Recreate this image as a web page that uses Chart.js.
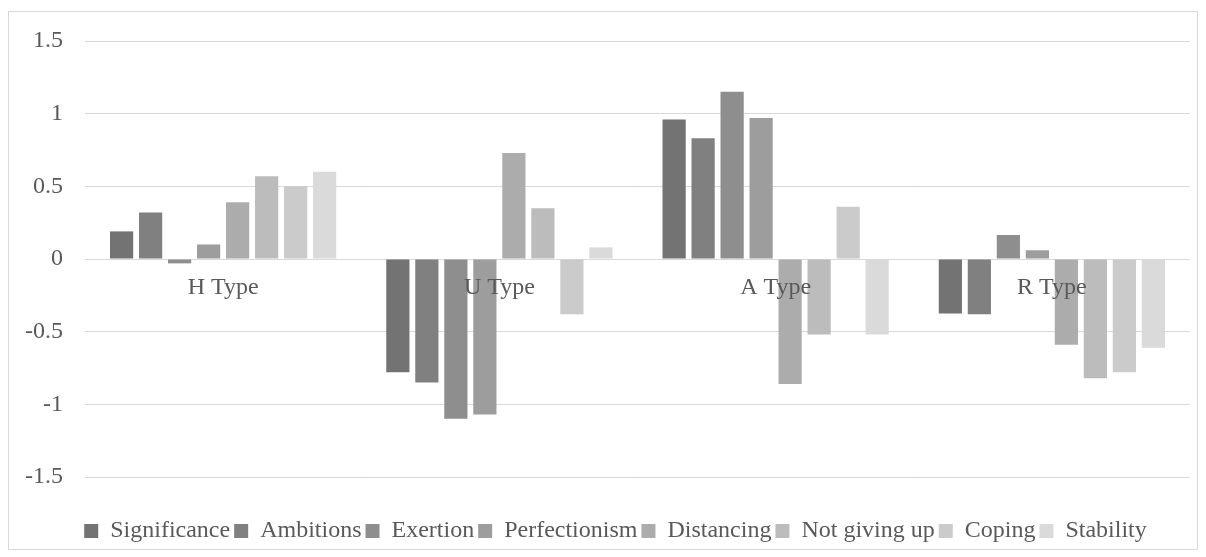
<!DOCTYPE html>
<html>
<head>
<meta charset="utf-8">
<script src="https://cdn.jsdelivr.net/npm/chart.js@4.4.1/dist/chart.umd.min.js"></script>
<style>
  html, body { margin: 0; padding: 0; background: #ffffff; }
  #frame {
    position: absolute;
    left: 8px;
    top: 11px;
    width: 1188px;
    height: 537px;
    border: 1px solid #d9d9d9;
  }
</style>
</head>
<body>
<div id="frame"><canvas id="chart"></canvas></div>
<script>
// categories and series
const types = ["H Type", "U Type", "A Type", "R Type"];
const seriesNames = ["Significance", "Ambitions", "Exertion", "Perfectionism", "Distancing", "Not giving up", "Coping", "Stability"];
const seriesColors = ["#737373", "#808080", "#8e8e8e", "#9d9d9d", "#acacac", "#bcbcbc", "#cbcbcb", "#dadada"];

// values per series, one per type (H, U, A, R)
const significance = [0.19, -0.78, 0.96, -0.375];
const ambitions = [0.32, -0.85, 0.83, -0.38];
const exertion = [-0.03, -1.10, 1.15, 0.165];
const perfectionism = [0.10, -1.07, 0.97, 0.06];
const distancing = [0.39, 0.73, -0.86, -0.59];
const notGivingUp = [0.57, 0.35, -0.52, -0.82];
const coping = [0.50, -0.38, 0.36, -0.78];
const stability = [0.60, 0.08, -0.52, -0.61];

const yTicks = [1.5, 1, 0.5, 0, -0.5, -1, -1.5];

const seriesValues = [significance, ambitions, exertion, perfectionism, distancing, notGivingUp, coping, stability];

const fontFamily = "'Liberation Serif', 'Times New Roman', serif";
const textColor = "#595959";

const datasets = seriesNames.map((name, i) => ({
    label: name,
    data: seriesValues[i],
    backgroundColor: seriesColors[i],
    borderWidth: 0,
    barPercentage: 0.8,
    categoryPercentage: 0.84
}));

// the legend in the original sits a bit right of centre
const legendShift = {
    id: 'legendShift',
    afterLayout(chart) {
        chart.legend.left += 16;
        chart.legend.right += 16;
    }
};

const ctx = document.getElementById('chart').getContext('2d');
const myChart = new Chart(ctx, {
    type: 'bar',
    data: {
        labels: types,
        datasets: datasets
    },
    plugins: [legendShift],
    options: {
        responsive: true,
        maintainAspectRatio: false,
        animation: false,
        layout: {
            padding: { left: 0, right: 7, top: 29, bottom: 4 }
        },
        plugins: {
            tooltip: { enabled: false },
            legend: {
                position: 'bottom',
                maxHeight: 30,
                labels: {
                    font: { family: fontFamily, size: 24 },
                    color: textColor,
                    boxWidth: 14,
                    boxHeight: 14,
                    padding: 4
                }
            }
        },
        scales: {
            x: {
                position: { y: 0 },
                grid: { display: false },
                border: { display: false },
                ticks: {
                    z: 1,   // labels sit on top of the bars
                    font: { family: fontFamily, size: 24 },
                    color: textColor,
                    padding: 6
                }
            },
            // empty axis only to keep the gap between plot and legend
            gap: {
                type: 'category',
                position: 'bottom',
                labels: [''],
                grid: { display: false },
                border: { display: false },
                ticks: { display: false },
                afterFit: (scale) => { scale.height = 38; }
            },
            y: {
                min: -1.5,
                max: 1.5,
                afterFit: (scale) => {
                    scale.width = 76;
                    scale.paddingTop = 0;
                    scale.paddingBottom = 0;
                },
                afterBuildTicks: (scale) => {
                    scale.ticks = yTicks.map(v => ({ value: v }));
                },
                grid: {
                    color: "#d9d9d9",
                    lineWidth: 1,
                    drawTicks: false
                },
                border: { display: false },
                ticks: {
                    font: { family: fontFamily, size: 24 },
                    color: textColor,
                    padding: 22,
                    callback: (v) => String(v)
                }
            }
        }
    }
});
</script>
</body>
</html>
